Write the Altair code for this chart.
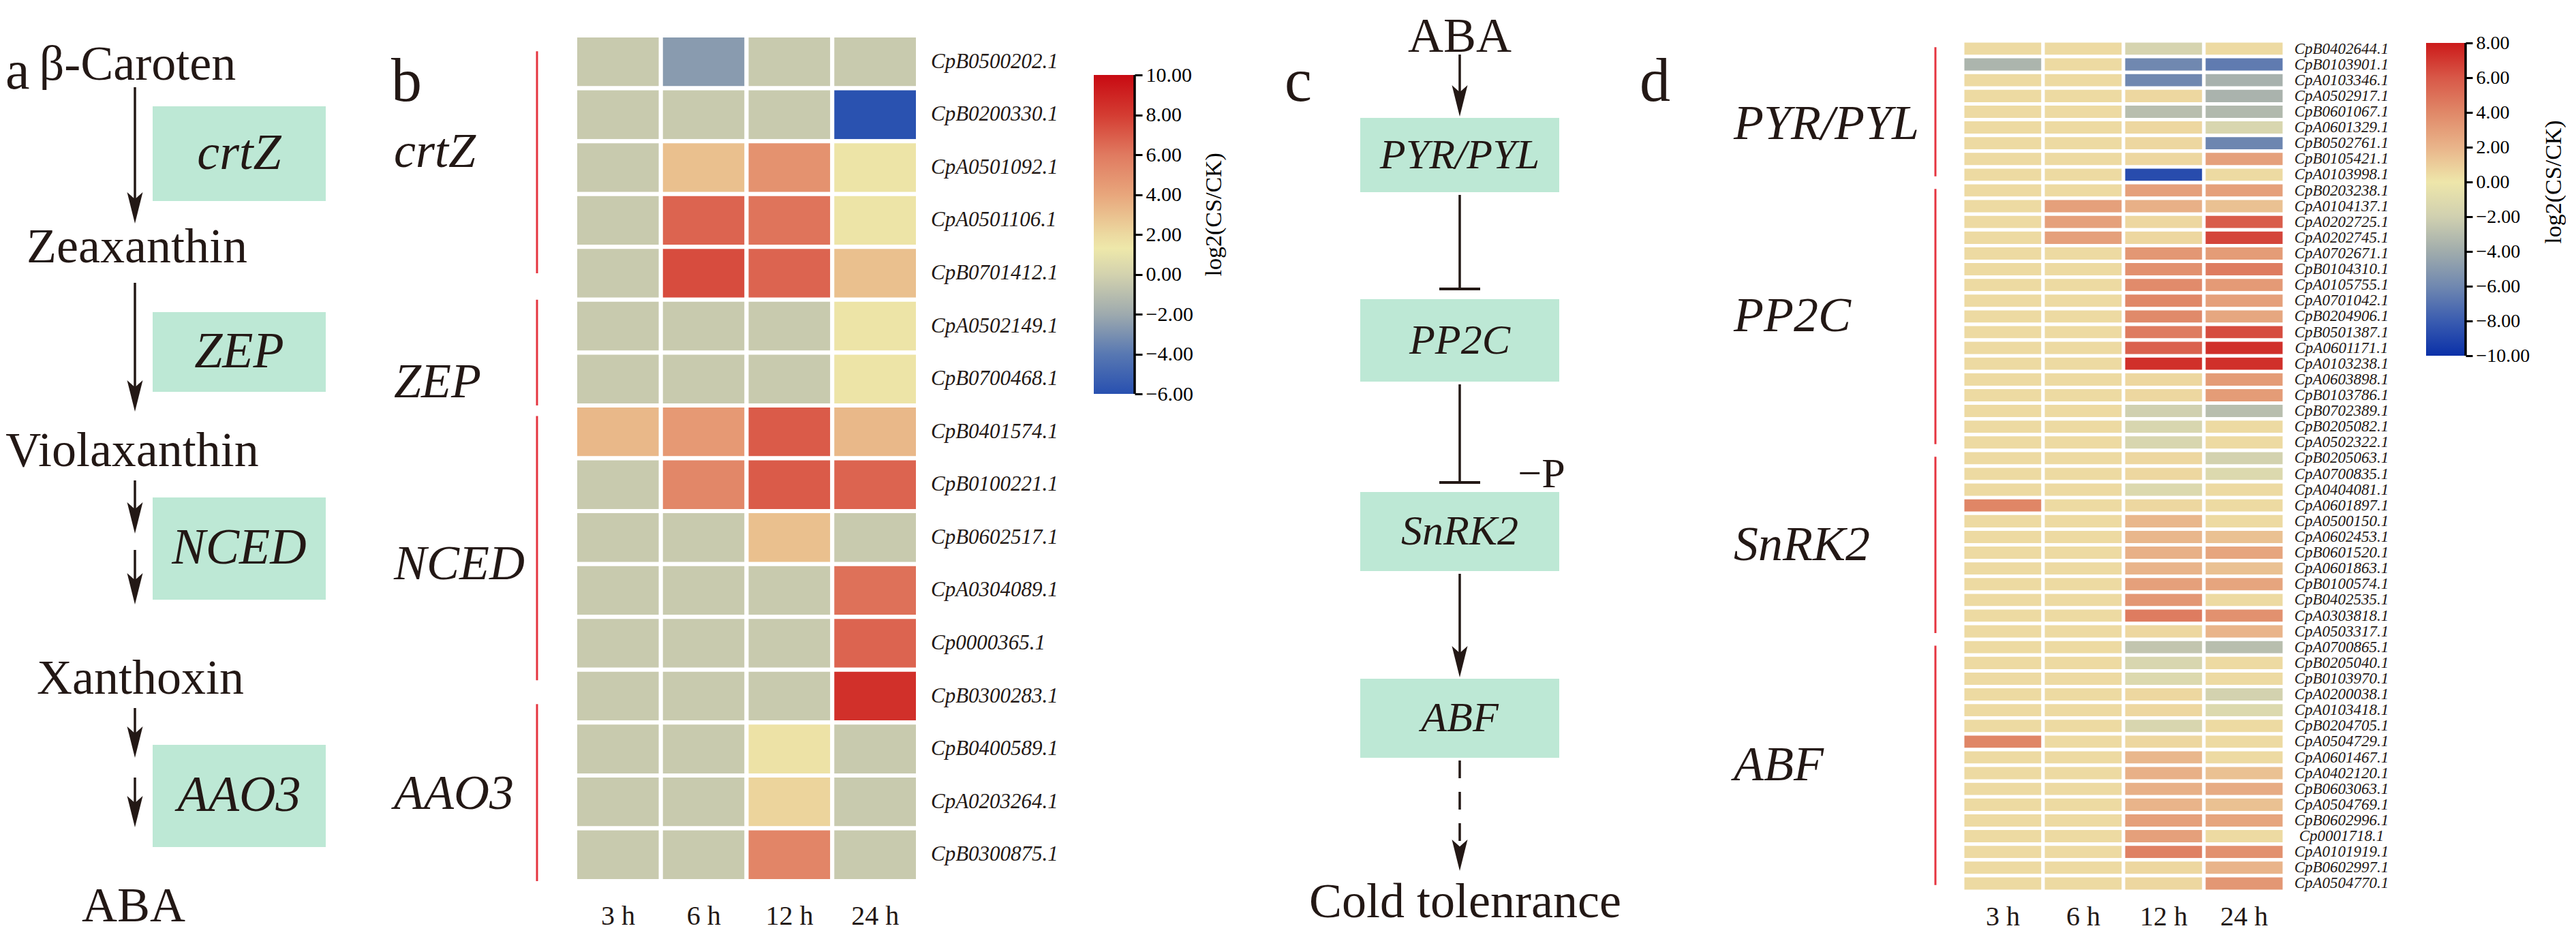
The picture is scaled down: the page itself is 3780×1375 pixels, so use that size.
import altair as alt
import pandas as pd

FONT = "Liberation Serif"
INK = "#231815"
MINT = "#bde8d5"
RED = "#e5343f"

# ------------------------------------------------------------------ data
times = ["3 h", "6 h", "12 h", "24 h"]

# panel a : ABA biosynthesis pathway
a_compounds = ["β-Caroten", "Zeaxanthin", "Violaxanthin", "Xanthoxin", "ABA"]
a_enzymes = ["crtZ", "ZEP", "NCED", "AAO3"]
a_arrow_counts = [1, 1, 2, 2]

# panel b : biosynthesis genes
b_genes = ["CpB0500202.1", "CpB0200330.1", "CpA0501092.1", "CpA0501106.1", "CpB0701412.1",
           "CpA0502149.1", "CpB0700468.1",
           "CpB0401574.1", "CpB0100221.1", "CpB0602517.1", "CpA0304089.1", "Cp0000365.1", "CpB0300283.1",
           "CpB0400589.1", "CpA0203264.1", "CpB0300875.1"]
b_group_names = ["crtZ", "ZEP", "NCED", "AAO3"]
b_group_sizes = [5, 2, 6, 3]
b_3h = [-0.4, -0.4, -0.4, -0.4, -0.4, -0.4, -0.4, 3.3, -0.4, -0.4, -0.4, -0.4, -0.4, -0.4, -0.4, -0.4]
b_6h = [-2.6, -0.4, 3.0, 6.7, 7.5, -0.4, -0.4, 4.6, 5.4, -0.4, -0.4, -0.4, -0.4, -0.4, -0.4, -0.4]
b_12h = [-0.4, -0.4, 4.9, 6.2, 6.7, -0.4, -0.4, 7.0, 7.0, 3.0, -0.4, -0.4, -0.4, 1.6, 2.2, 5.5]
b_24h = [-0.4, -5.9, 1.5, 1.5, 3.0, 1.5, 1.5, 3.3, 6.7, -0.4, 6.3, 6.7, 8.5, -0.4, -0.4, -0.4]
b_ticks = [10, 8, 6, 4, 2, 0, -2, -4, -6]
b_color_domain = [-6, -4, -2, 0, 1.3, 2, 4, 6, 8, 10]
b_color_range = ["#2850b0", "#5878b2", "#9eaaae", "#d3d2ae", "#eee8aa", "#ecd9a0",
                 "#e8a67c", "#e07a60", "#d43c32", "#c80a12"]

# panel c : signalling
c_source = "ABA"
c_nodes = ["PYR/PYL", "PP2C", "SnRK2", "ABF"]
c_links = ["arrow", "inhibit", "inhibit", "arrow", "dashed"]
c_link_notes = ["", "", "−P", "", ""]
c_target = "Cold tolenrance"

# panel d : signalling genes
d_genes = ["CpB0402644.1", "CpB0103901.1", "CpA0103346.1", "CpA0502917.1", "CpB0601067.1",
           "CpA0601329.1", "CpB0502761.1", "CpB0105421.1", "CpA0103998.1",
           "CpB0203238.1", "CpA0104137.1", "CpA0202725.1", "CpA0202745.1", "CpA0702671.1",
           "CpB0104310.1", "CpA0105755.1", "CpA0701042.1", "CpB0204906.1", "CpB0501387.1",
           "CpA0601171.1", "CpA0103238.1", "CpA0603898.1", "CpB0103786.1", "CpB0702389.1",
           "CpB0205082.1", "CpA0502322.1",
           "CpB0205063.1", "CpA0700835.1", "CpA0404081.1", "CpA0601897.1", "CpA0500150.1",
           "CpA0602453.1", "CpB0601520.1", "CpA0601863.1", "CpB0100574.1", "CpB0402535.1",
           "CpA0303818.1", "CpA0503317.1",
           "CpA0700865.1", "CpB0205040.1", "CpB0103970.1", "CpA0200038.1", "CpA0103418.1",
           "CpB0204705.1", "CpA0504729.1", "CpA0601467.1", "CpA0402120.1", "CpB0603063.1",
           "CpA0504769.1", "CpB0602996.1", "Cp0001718.1", "CpA0101919.1", "CpB0602997.1",
           "CpA0504770.1"]
d_group_names = ["PYR/PYL", "PP2C", "SnRK2", "ABF"]
d_group_sizes = [9, 17, 12, 16]
d_3h = [0.5, -3.5, 0.5, 0.5, 0.5, 0.5, 0.5, 0.5, 0.5,
        0.5, 0.5, 0.5, 0.5, 0.5, 0.5, 0.5, 0.5, 0.5, 0.5, 0.5, 0.5, 0.5, 0.5, 0.5, 0.5, 0.5,
        0.5, 0.5, 0.5, 4.1, 0.5, 0.5, 0.5, 0.5, 0.5, 0.5, 0.5, 0.5,
        0.5, 0.5, 0.5, 0.5, 0.5, 0.5, 4.1, 0.5, 0.5, 0.5, 0.5, 0.5, 0.5, 0.5, 0.5, 0.5]
d_6h = [0.5, 0.5, 0.5, 0.5, 0.5, 0.5, 0.5, 0.5, 0.5,
        0.5, 2.9, 2.9, 2.9, 0.5, 0.5, 0.5, 0.5, 0.5, 0.5, 0.5, 0.5, 0.5, 0.5, 0.5, 0.5, 0.5,
        0.5, 0.5, 0.5, 0.5, 0.5, 0.5, 0.5, 0.5, 0.5, 0.5, 0.5, 0.5,
        0.5, 0.5, 0.5, 0.5, 0.5, 0.5, 0.5, 0.5, 0.5, 0.5, 0.5, 0.5, 0.5, 0.5, 0.5, 0.5]
d_12h = [-1.6, -6.0, -6.0, 0.6, -3.0, 0.6, 0.6, 0.6, -8.75,
         2.9, 2.2, 0.6, 0.6, 3.3, 3.6, 3.85, 4.0, 3.9, 4.5, 5.6, 7.3, 0.6, 0.6, -2.0, -1.5, -1.5,
         0.6, 0.6, -1.2, 0.6, 1.9, 1.9, 2.2, 2.0, 2.9, 3.3, 4.5, 0.6,
         -2.6, -1.5, -1.2, 0.6, 0.6, -1.5, 0.6, 1.9, 2.2, 2.2, 2.0, 2.9, 2.9, 4.3, 0.6, 0.6]
d_24h = [0.5, -6.6, -3.7, -3.6, -3.3, -1.5, -6.1, 2.9, 0.5,
         2.9, 1.5, 5.8, 6.6, 3.1, 4.5, 3.2, 2.9, 2.6, 6.4, 7.3, 7.3, 3.1, 3.1, -3.0, 0.5, 0.5,
         -1.8, -1.2, 0.5, 0.5, 0.5, 1.5, 2.7, 1.5, 2.7, 0.5, 3.6, 2.0,
         -3.0, 0.5, 0.5, -1.8, -1.2, 0.5, 0.5, 0.5, 1.5, 2.4, 1.5, 2.7, 0.5, 3.6, 2.0, 3.3]
d_ticks = [8, 6, 4, 2, 0, -2, -4, -6, -8, -10]
d_color_domain = [-10, -8, -6, -4, -2, 0, 2, 4, 6, 8]
d_color_range = ["#0a30a8", "#3a5cb0", "#7088b0", "#a0acac", "#d0d0b0", "#eee6aa",
                 "#e9b48a", "#e08868", "#d85848", "#cc1a1a"]

# ------------------------------------------------------------------ layout
H = 1359
WA, WB, WCB, WC, WD, WCD = 552, 1045, 60, 745, 1150, 58
HEAD = 46
ARROW = "M -0.5 -1 L 0 1 L 0.5 -1 L 0 -0.55 Z"


def X(f, s):
    return alt.X(f, type="quantitative", scale=s, axis=None)


def Y(f, s):
    return alt.Y(f, type="quantitative", scale=s, axis=None)


def letter_layer(ch, x, y, size=90):
    return alt.Chart(pd.DataFrame({"t": [ch]})).mark_text(
        font=FONT, fontSize=size, align="left", baseline="alphabetic", color=INK
    ).encode(x=alt.value(x), y=alt.value(y), text="t:N")


def arrow_layers(df, xs, ys, dash=None):
    line_kw = dict(color=INK, strokeWidth=3.5)
    if dash:
        line_kw["strokeDash"] = dash
    line = alt.Chart(df).mark_rule(**line_kw).encode(x=X("x", xs), y=Y("y1", ys), y2="yl:Q")
    head = alt.Chart(df).mark_point(shape=ARROW, filled=True, size=HEAD ** 2, color=INK,
                                    opacity=1, strokeWidth=0).encode(x=X("x", xs), y=Y("yh", ys))
    return [line, head]


def arrow_frame(x, spans):
    return pd.DataFrame({"x": [x] * len(spans),
                         "y1": [s[0] for s in spans],
                         "yl": [s[1] - 0.6 * HEAD for s in spans],
                         "yh": [s[1] - 0.5 * HEAD for s in spans]})


# ---------------- panel a
a_text_x = [194, 193, 186, 198, 188]
a_text_base = [109, 377, 676, 1010, 1344]
a_box_x = (216, 470)
a_box_y = [(148, 287), (450, 567), (722, 872), (1085, 1235)]
a_arrow_x = 190
a_arrow_spans = [(120, 320), (407, 596), (697, 775), (799, 879), (1031, 1104), (1133, 1206)]

xsA = alt.Scale(domain=[0, WA], nice=False, zero=False)
ysA = alt.Scale(domain=[0, H], nice=False, zero=False, reverse=True)
dfA_comp = pd.DataFrame({"name": a_compounds, "x": a_text_x, "y": a_text_base})
dfA_box = pd.DataFrame({"name": a_enzymes,
                        "x1": [a_box_x[0]] * len(a_enzymes), "x2": [a_box_x[1]] * len(a_enzymes),
                        "y1": [b[0] for b in a_box_y], "y2": [b[1] for b in a_box_y]})
dfA_box["tx"] = (dfA_box.x1 + dfA_box.x2) / 2
dfA_box["ty"] = (dfA_box.y1 + dfA_box.y2) / 2
assert sum(a_arrow_counts) == len(a_arrow_spans)
dfA_arr = arrow_frame(a_arrow_x, a_arrow_spans)

pA = alt.layer(
    alt.Chart(dfA_box).mark_rect(color=MINT).encode(x=X("x1", xsA), x2="x2:Q", y=Y("y1", ysA), y2="y2:Q"),
    alt.Chart(dfA_box).mark_text(font=FONT, fontSize=74, fontStyle="italic", color=INK, baseline="middle")
    .encode(x=X("tx", xsA), y=Y("ty", ysA), text="name:N"),
    alt.Chart(dfA_comp).mark_text(font=FONT, fontSize=72, color=INK, baseline="alphabetic")
    .encode(x=X("x", xsA), y=Y("y", ysA), text="name:N"),
    *arrow_layers(dfA_arr, xsA, ysA),
    letter_layer("a", 0, 122, 80),
).properties(width=WA, height=H)


# ---------------- heatmap panels
def heat_panel(letter, letter_x, genes, col_values, group_names, group_sizes, cdom, crng, W,
               x0, x1, y0, y1, stroke, gene_font, gene_align, gene_dx, col_font, col_dy,
               group_x, line_x, line_spans, label_rows):
    n = len(genes)
    colw = (x1 - x0) / len(times)
    rowh = (y1 - y0) / n
    xs = alt.Scale(domain=[-x0 / colw, (W - x0) / colw], nice=False, zero=False)
    ys = alt.Scale(domain=[-y0 / rowh, (H - y0) / rowh], nice=False, zero=False, reverse=True)
    cs = alt.Scale(domain=cdom, range=crng, interpolate="rgb", clamp=True)
    rows = []
    for i, g in enumerate(genes):
        for j, t in enumerate(times):
            rows.append({"gene": g, "time": t, "c0": j, "c1": j + 1, "r0": i, "r1": i + 1,
                         "v": col_values[j][i]})
    cells = pd.DataFrame(rows)
    rect = alt.Chart(cells).mark_rect(stroke="white", strokeWidth=stroke).encode(
        x=X("c0", xs), x2="c1:Q", y=Y("r0", ys), y2="r1:Q",
        color=alt.Color("v:Q", scale=cs, legend=None))
    glab = pd.DataFrame({"gene": genes, "gx": [len(times) + gene_dx / colw] * n,
                         "gy": [i + 0.5 for i in range(n)]})
    gene_txt = alt.Chart(glab).mark_text(font=FONT, fontSize=gene_font, fontStyle="italic",
                                         align=gene_align, baseline="middle", color=INK).encode(
        x=X("gx", xs), y=Y("gy", ys), text="gene:N")
    tlab = pd.DataFrame({"time": times, "tx": [j + 0.5 for j in range(len(times))],
                         "ty": [n + col_dy / rowh] * len(times)})
    time_txt = alt.Chart(tlab).mark_text(font=FONT, fontSize=col_font, baseline="middle",
                                         color=INK).encode(x=X("tx", xs), y=Y("ty", ys), text="time:N")
    starts, s = [], 0
    for k in group_sizes:
        starts.append(s)
        s += k
    if line_spans is None:
        line_spans = [(a + 0.4, a + k - 0.4) for a, k in zip(starts, group_sizes)]
    if label_rows is None:
        label_rows = [a + k / 2 for a, k in zip(starts, group_sizes)]
    grp = pd.DataFrame({"name": group_names,
                        "s": [sp[0] for sp in line_spans],
                        "e": [sp[1] for sp in line_spans],
                        "m": label_rows,
                        "lx": [(line_x - x0) / colw] * len(group_names),
                        "gx": [(group_x - x0) / colw] * len(group_names)})
    lines = alt.Chart(grp).mark_rule(color=RED, strokeWidth=3).encode(
        x=X("lx", xs), y=Y("s", ys), y2="e:Q")
    gtxt = alt.Chart(grp).mark_text(font=FONT, fontSize=72, fontStyle="italic", align="left",
                                    baseline="middle", color=INK).encode(
        x=X("gx", xs), y=Y("m", ys), text="name:N")
    return alt.layer(rect, gene_txt, time_txt, lines, gtxt, letter_layer(letter, letter_x, 140)
                     ).properties(width=W, height=H)


def colorbar_panel(W, ticks, cdom, crng, top_px, bottom_px, tick_font, tick_size, label_x, label_v):
    vmin, vmax = min(cdom), max(cdom)
    k = (bottom_px - top_px) / (vmax - vmin)
    ys = alt.Scale(domain=[vmin - (H - bottom_px) / k, vmax + top_px / k], nice=False, zero=False)
    ax = alt.Axis(orient="right", values=ticks, format=".2f", domain=False, grid=False, title=None,
                  tickColor="black", tickWidth=3, tickSize=tick_size, labelColor="black",
                  labelFont=FONT, labelFontSize=tick_font, labelPadding=5)
    stops = [alt.GradientStop(color=c, offset=(d - vmin) / (vmax - vmin)) for d, c in zip(cdom, crng)]
    grad = alt.Gradient(gradient="linear", stops=stops, x1=0, x2=0, y1=1, y2=0)
    df = pd.DataFrame({"lo": [vmin], "hi": [vmax], "mid": [label_v], "lab": ["log2(CS/CK)"]})
    bar = alt.Chart(df).mark_rect(color=grad).encode(
        x=alt.value(0), x2=alt.value(W), y=alt.Y("lo:Q", scale=ys, axis=ax), y2="hi:Q")
    rule = alt.Chart(df).mark_rule(color="black", strokeWidth=3.5).encode(
        x=alt.value(W), y=alt.Y("lo:Q", scale=ys, axis=ax), y2="hi:Q")
    lab = alt.Chart(df).mark_text(angle=270, font=FONT, fontSize=34, color="black", baseline="middle").encode(
        x=alt.value(label_x), y=alt.Y("mid:Q", scale=ys, axis=ax), text="lab:N")
    return alt.layer(bar, rule, lab).properties(width=W, height=H)


pB = heat_panel("b", 14, b_genes, [b_3h, b_6h, b_12h, b_24h], b_group_names, b_group_sizes,
                b_color_domain, b_color_range, WB, x0=284, x1=787, y0=44, y1=1285, stroke=6,
                gene_font=31, gene_align="left", gene_dx=19, col_font=40, col_dy=52,
                group_x=18, line_x=228,
                line_spans=[(0.3, 4.5), (5.0, 7.0), (7.2, 12.2), (12.65, 16.0)],
                label_rows=[2.2, 6.56, 10.0, 14.35])
pCB = colorbar_panel(WCB, b_ticks, b_color_domain, b_color_range, 102, 570, 30, 11, 177, 3.0)

pD = heat_panel("d", -4, d_genes, [d_3h, d_6h, d_12h, d_24h], d_group_names, d_group_sizes,
                d_color_domain, d_color_range, WD, x0=470, x1=942, y0=52, y1=1300, stroke=5,
                gene_font=23, gene_align="center", gene_dx=84, col_font=40, col_dy=38,
                group_x=134, line_x=430, line_spans=None,
                label_rows=[5.3, 17.5, 32.0, 46.0])
pCD = colorbar_panel(WCD, d_ticks, d_color_domain, d_color_range, 55, 514, 28, 10, 188, 0.0)

# ---------------- panel c
C_X = 477
c_box_x = (331, 623)
c_box_y = [(165, 274), (431, 552), (714, 830), (988, 1104)]
c_link_spans = [(72, 163), (278, 416), (556, 700), (834, 986), (1108, 1270)]
c_source_pos = (477, 68)
c_target_pos = (485, 1338)
c_note_pos = (597, 688)
BAR_HALF = 30

xsC = alt.Scale(domain=[0, WC], nice=False, zero=False)
ysC = alt.Scale(domain=[0, H], nice=False, zero=False, reverse=True)
dfC_box = pd.DataFrame({"name": c_nodes,
                        "x1": [c_box_x[0]] * len(c_nodes), "x2": [c_box_x[1]] * len(c_nodes),
                        "y1": [b[0] for b in c_box_y], "y2": [b[1] for b in c_box_y]})
dfC_box["tx"] = (dfC_box.x1 + dfC_box.x2) / 2
dfC_box["ty"] = (dfC_box.y1 + dfC_box.y2) / 2
dfC_ends = pd.DataFrame({"name": [c_source, c_target],
                         "x": [c_source_pos[0], c_target_pos[0]],
                         "y": [c_source_pos[1], c_target_pos[1]]})
arrow_spans = [sp for sp, k in zip(c_link_spans, c_links) if k == "arrow"]
dash_spans = [sp for sp, k in zip(c_link_spans, c_links) if k == "dashed"]
inh_spans = [sp for sp, k in zip(c_link_spans, c_links) if k == "inhibit"]
dfC_inh = pd.DataFrame({"x": [C_X] * len(inh_spans), "y1": [s[0] for s in inh_spans],
                        "y2": [s[1] for s in inh_spans],
                        "bx1": [C_X - BAR_HALF] * len(inh_spans), "bx2": [C_X + BAR_HALF] * len(inh_spans)})
notes = [n for n in c_link_notes if n]
dfC_note = pd.DataFrame({"t": notes, "x": [c_note_pos[0]] * len(notes), "y": [c_note_pos[1]] * len(notes)})

pC = alt.layer(
    alt.Chart(dfC_box).mark_rect(color=MINT).encode(x=X("x1", xsC), x2="x2:Q", y=Y("y1", ysC), y2="y2:Q"),
    alt.Chart(dfC_box).mark_text(font=FONT, fontSize=62, fontStyle="italic", color=INK, baseline="middle")
    .encode(x=X("tx", xsC), y=Y("ty", ysC), text="name:N"),
    alt.Chart(dfC_ends).mark_text(font=FONT, fontSize=72, color=INK, baseline="alphabetic")
    .encode(x=X("x", xsC), y=Y("y", ysC), text="name:N"),
    *arrow_layers(arrow_frame(C_X, arrow_spans), xsC, ysC),
    *arrow_layers(arrow_frame(C_X, dash_spans), xsC, ysC, dash=[26, 20]),
    alt.Chart(dfC_inh).mark_rule(color=INK, strokeWidth=3.5).encode(x=X("x", xsC), y=Y("y1", ysC), y2="y2:Q"),
    alt.Chart(dfC_inh).mark_rule(color=INK, strokeWidth=4).encode(x=X("bx1", xsC), x2="bx2:Q", y=Y("y2", ysC)),
    alt.Chart(dfC_note).mark_text(font=FONT, fontSize=62, color=INK, baseline="middle")
    .encode(x=X("x", xsC), y=Y("y", ysC), text="t:N"),
    letter_layer("c", 220, 140),
).properties(width=WC, height=H)

chart = (alt.hconcat(pA, pB, pCB, pC, pD, pCD, spacing=0, bounds="flush", padding=0)
         .resolve_scale(color="independent")
         .configure_view(stroke=None))
chart.save("out.html", embed_options={"renderer": "svg", "actions": False})
